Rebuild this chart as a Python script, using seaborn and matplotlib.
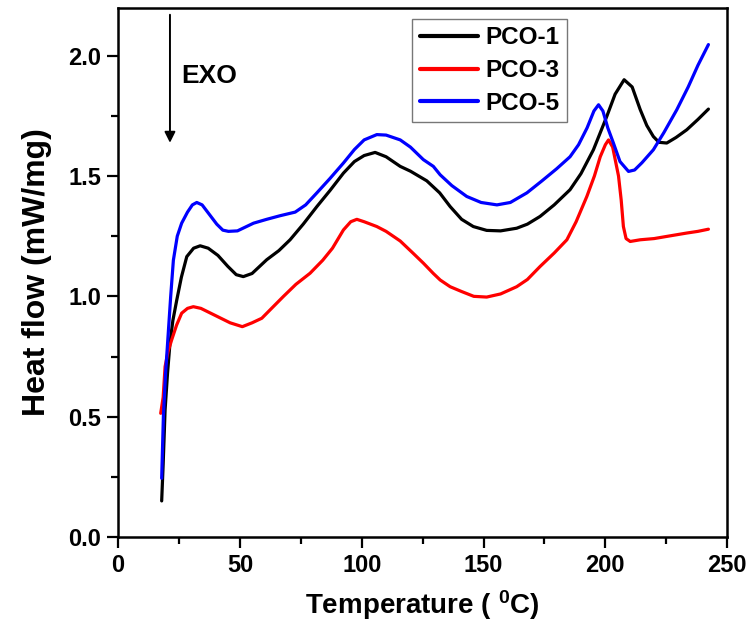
import matplotlib
matplotlib.use("Agg")
import matplotlib.pyplot as plt
import seaborn as sns
import pandas as pd
from matplotlib.ticker import MultipleLocator

# ---- data ----
t_pco1 = [17.9, 18.5, 19.3, 20.3, 21.3, 22.5, 24.1, 26, 28.2, 31, 33.7, 37, 41, 45, 48.5, 51.4,
          55, 61, 66, 70.6, 76, 81.6, 87, 92.5, 97, 101, 105.5, 110, 115.8, 120, 126.7, 132,
          136.3, 141, 145.8, 151.3, 157, 163.6, 168, 173.2, 179, 185.5, 190, 195.1, 200.6, 204,
          207.7, 211, 214.3, 217, 219.7, 222, 225.2, 229, 233.4, 238, 242.3]
h_pco1 = [0.15, 0.3, 0.528, 0.68, 0.805, 0.9, 0.985, 1.08, 1.165, 1.2, 1.21, 1.2, 1.17, 1.125, 1.09, 1.082,
          1.095, 1.152, 1.19, 1.235, 1.30, 1.373, 1.44, 1.512, 1.56, 1.585, 1.598, 1.58, 1.54, 1.52, 1.48, 1.43,
          1.373, 1.32, 1.29, 1.274, 1.272, 1.283, 1.30, 1.332, 1.38, 1.443, 1.51, 1.609, 1.748, 1.84,
          1.90, 1.87, 1.776, 1.71, 1.664, 1.64, 1.637, 1.66, 1.692, 1.735, 1.778]

t_pco3 = [17.5, 18.5, 19.3, 20.5, 22, 24, 26.1, 28.5, 30.9, 34, 38, 42, 46, 51, 55, 59, 63, 67.9, 73,
          78.8, 84, 88, 92.5, 95.5, 98, 101, 106.2, 110, 115.8, 121, 125.3, 129.4, 132.2, 136.3, 141,
          146, 151.3, 157, 163.6, 168, 173.2, 179, 184.2, 188, 192.4, 195.5, 197.9, 200, 201.3, 203,
          205.4, 206.5, 207.4, 208.5, 210.2, 214.3, 220, 225.2, 233.4, 238, 242.3]
h_pco3 = [0.514, 0.58, 0.708, 0.77, 0.819, 0.88, 0.93, 0.95, 0.957, 0.95, 0.93, 0.91, 0.89, 0.874, 0.89,
          0.909, 0.95, 1.0, 1.05, 1.096, 1.15, 1.2, 1.276, 1.31, 1.32, 1.31, 1.29, 1.27, 1.23, 1.18, 1.138,
          1.095, 1.068, 1.04, 1.02, 1.0, 0.997, 1.01, 1.04, 1.07, 1.124, 1.18, 1.235, 1.31, 1.415, 1.50,
          1.58, 1.63, 1.65, 1.62, 1.50, 1.40, 1.29, 1.24, 1.228, 1.235, 1.24, 1.249, 1.263, 1.27, 1.279]

t_pco5 = [17.9, 18.6, 19.5, 20.6, 21.6, 22.7, 24.3, 26.1, 28.5, 30.5, 32.3, 34.5, 37.5, 40.5, 43, 45.3,
          49, 55.6, 61, 66.5, 72.7, 77, 81.6, 87, 92.5, 97, 101, 106.2, 110, 115.8, 120, 125.3, 129.4,
          132.2, 137, 143.1, 149, 155.5, 161, 167.8, 174, 180, 185.5, 189, 192.5, 195.3, 197.2, 199,
          201, 203.3, 206, 209.5, 212, 215, 219.7, 224, 229.3, 234, 238, 242.3]
h_pco5 = [0.244, 0.5, 0.68, 0.847, 1.0, 1.15, 1.25, 1.304, 1.35, 1.38, 1.39, 1.38, 1.34, 1.30, 1.275, 1.27,
          1.272, 1.304, 1.32, 1.335, 1.35, 1.38, 1.43, 1.49, 1.554, 1.61, 1.65, 1.672, 1.67, 1.65, 1.62,
          1.568, 1.54, 1.505, 1.46, 1.415, 1.39, 1.38, 1.39, 1.43, 1.48, 1.53, 1.58, 1.63, 1.70, 1.77,
          1.796, 1.77, 1.70, 1.637, 1.56, 1.519, 1.525, 1.555, 1.609, 1.68, 1.775, 1.87, 1.96, 2.046]

series_names = ["PCO-1", "PCO-3", "PCO-5"]
series_colors = ["#000000", "#ff0000", "#0000ff"]

frames = []
for name, t, h in zip(series_names, [t_pco1, t_pco3, t_pco5], [h_pco1, h_pco3, h_pco5]):
    frames.append(pd.DataFrame({"Temperature": t, "Heat flow": h, "Sample": name}))
df = pd.concat(frames, ignore_index=True)

sns.set_theme(style="ticks")
plt.rcParams["font.family"] = ["Liberation Sans", "DejaVu Sans"]
plt.rcParams["font.weight"] = "bold"
plt.rcParams["text.color"] = "black"
plt.rcParams["axes.labelcolor"] = "black"
plt.rcParams["xtick.color"] = "black"
plt.rcParams["ytick.color"] = "black"
plt.rcParams["mathtext.fontset"] = "custom"
plt.rcParams["mathtext.rm"] = "Liberation Sans:bold"
plt.rcParams["mathtext.bf"] = "Liberation Sans:bold"
plt.rcParams["mathtext.default"] = "bf"

fig = plt.figure(figsize=(7.52, 6.27), dpi=100)
ax = fig.add_axes([0.157, 0.1435, 0.81, 0.8445])

sns.lineplot(data=df, x="Temperature", y="Heat flow", hue="Sample", palette=series_colors,
             sort=False, estimator=None, linewidth=2.3, ax=ax)

ax.set_xlim(0, 250)
ax.set_ylim(0, 2.2)
ax.xaxis.set_major_locator(MultipleLocator(50))
ax.xaxis.set_minor_locator(MultipleLocator(25))
ax.yaxis.set_major_locator(MultipleLocator(0.5))
ax.yaxis.set_minor_locator(MultipleLocator(0.25))
ax.yaxis.set_major_formatter(matplotlib.ticker.FormatStrFormatter("%.1f"))

for s in ax.spines.values():
    s.set_linewidth(1.8)
    s.set_color("black")
ax.tick_params(which="major", direction="out", length=8, width=1.6, labelsize=17, color="black",
               labelcolor="black", top=False, right=False, bottom=True, left=True, pad=4)
ax.tick_params(which="minor", direction="out", length=5, width=1.6, color="black",
               top=False, right=False, bottom=True, left=True)
for lab in ax.get_xticklabels() + ax.get_yticklabels():
    lab.set_fontweight("bold")

ax.set_xlabel(r"Temperature ( $^{0}$C)", fontsize=20, fontweight="bold", labelpad=8, color="black")
ax.set_ylabel("Heat flow (mW/mg)", fontsize=23, fontweight="bold", labelpad=12, color="black")

ax.annotate("", xy=(21.3, 1.638), xytext=(21.3, 2.17),
            arrowprops=dict(arrowstyle="-|>", lw=1.4, color="black", mutation_scale=16,
                            shrinkA=0, shrinkB=0))
ax.text(26.1, 1.915, "EXO", fontsize=19, fontweight="bold", ha="left", va="center", color="black")

leg = ax.legend(loc="upper left", bbox_to_anchor=(0.483, 0.978), borderaxespad=0,
                fontsize=17.5, frameon=True, fancybox=False, handlelength=2.4,
                handletextpad=0.3, labelspacing=0.4, borderpad=0.3, title=None)
leg.get_frame().set_edgecolor("#555555")
leg.get_frame().set_linewidth(1.0)
for t in leg.get_texts():
    t.set_fontweight("bold")
    t.set_color("black")
for l in leg.get_lines():
    l.set_linewidth(3)

fig.savefig("out.png", dpi=100)
